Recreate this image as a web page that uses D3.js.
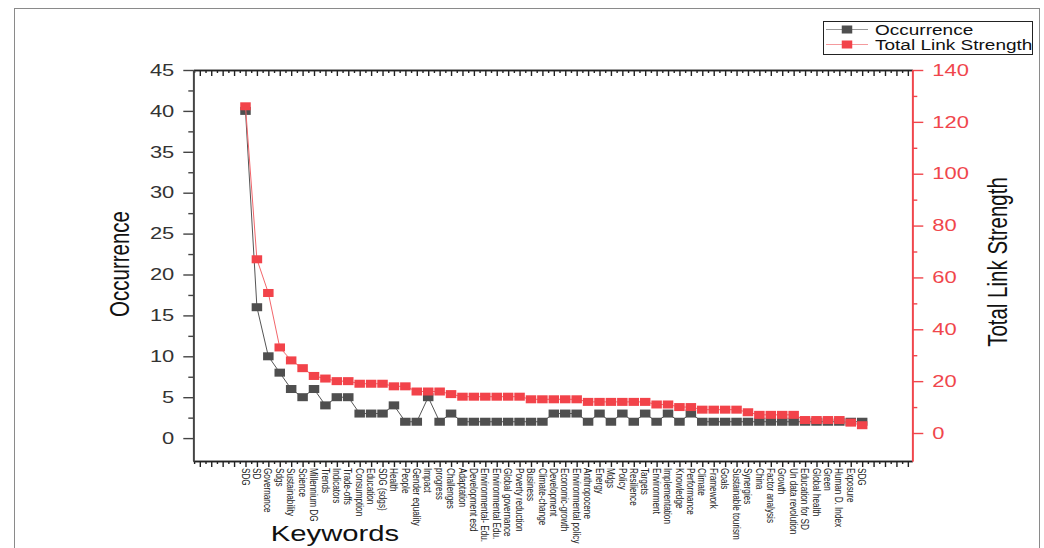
<!DOCTYPE html>
<html>
<head>
<meta charset="utf-8">
<script src="https://cdn.jsdelivr.net/npm/d3@7"></script>
<style>
  html, body { margin: 0; padding: 0; background: #fff; }
  svg { display: block; font-family: "Liberation Sans", Arial, sans-serif; }
</style>
</head>
<body>
<svg id="chart" width="1044" height="548"></svg>
<script>
// ---------------- data ----------------
const keywords = [
  "SDG", "SD", "Governance", "Sdgs", "Sustainability", "Science", "Millennium DG",
  "Trends", "Indicators", "Trade-offs", "Consumption", "Education", "SDG (sdgs)",
  "Health", "People", "Gender equality", "Impact", "progress", "Challenges",
  "Adaptation", "Development esd", "Environmental- Edu.", "Environmental Edu.",
  "Global governance", "Poverty reduction", "Business", "Climate-change",
  "Development", "Economic-growth", "Environmental policy", "Anthropocene",
  "Energy", "Mdgs", "Policy", "Resilience", "Targets", "Environment",
  "Implementation", "Knowledge", "Performance", "Climate", "Framework", "Goals",
  "Sustainable tourism", "Synergies", "China", "Factor analysis", "Growth",
  "Un data revolution", "Education for SD", "Global health", "Green",
  "Human D. Index", "Exposure", "SDG"
];
const occurrence = [
  40, 16, 10, 8, 6, 5, 6, 4, 5, 5, 3, 3, 3, 4,
  2, 2, 5, 2, 3, 2, 2, 2, 2, 2, 2, 2, 2,
  3, 3, 3,
  2, 3, 2, 3, 2, 3, 2, 3, 2, 3,
  2, 2, 2, 2, 2, 2, 2, 2, 2, 2, 2, 2, 2, 2, 2
];
const linkStrength = [
  126, 67, 54, 33, 28, 25, 22, 21, 20, 20, 19, 19, 19, 18, 18,
  16, 16, 16, 15, 14, 14, 14, 14, 14, 14, 13, 13, 13, 13, 13,
  12, 12, 12, 12, 12, 12, 11, 11, 10, 10, 9, 9, 9, 9, 8,
  7, 7, 7, 7, 5, 5, 5, 5, 4, 3
];
const leftTicks = [0, 5, 10, 15, 20, 25, 30, 35, 40, 45];
const leftMinorTicks = [2.5, 7.5, 12.5, 17.5, 22.5, 27.5, 32.5, 37.5, 42.5];
const rightTicks = [0, 20, 40, 60, 80, 100, 120, 140];
const rightMinorTicks = [10, 30, 50, 70, 90, 110, 130];
const seriesNames = ["Occurrence", "Total Link Strength"];

// ---------------- layout ----------------
const svg = d3.select("#chart");
const X0 = 193.3, X1 = 912.3, YT = 70, YB = 461;
const SX = 1.33;               // horizontal stretch of the original picture
const darkAxis = "#444", redAxis = "#f0464c";
const blackFill = "#4f4f4f", redFill = "#f2434a";

const x = d3.scaleLinear().domain([-3.57, 59.39]).range([X0, X1]);
const yL = d3.scaleLinear().domain([-2.8, 45]).range([YB, YT]);
const yR = d3.scaleLinear().domain([-10.8, 140]).range([YB, YT]);

// outer frame
svg.append("rect").attr("x", 14.5).attr("y", 8.5).attr("width", 1025).attr("height", 600)
  .attr("fill", "none").attr("stroke", "#8a8a8a").attr("stroke-width", 1);

// ---------------- axes ----------------
const majorX = d3.range(-3, 60);
const minorX = d3.range(-3.5, 59.5, 1).filter(v => v > -3.57 && v < 59.39);

function styleAxis(g, color) {
  g.selectAll("path.domain").attr("stroke", color).attr("stroke-width", 1.7);
  g.selectAll(".tick line").attr("stroke", color).attr("stroke-width", 1.4);
}

// bottom axis (ticks outward / down)
const gB1 = svg.append("g").attr("transform", `translate(0,${YB})`)
  .call(d3.axisBottom(x).tickValues(minorX).tickSize(3).tickSizeOuter(0).tickFormat(""));
const gB2 = svg.append("g").attr("transform", `translate(0,${YB})`)
  .call(d3.axisBottom(x).tickValues(majorX).tickSize(6).tickSizeOuter(0).tickFormat(""));
styleAxis(gB1, "#222"); styleAxis(gB2, "#222");

// top axis (ticks inward / down)
const gT1 = svg.append("g").attr("transform", `translate(0,${YT})`)
  .call(d3.axisBottom(x).tickValues(minorX).tickSize(3).tickSizeOuter(0).tickFormat(""));
const gT2 = svg.append("g").attr("transform", `translate(0,${YT})`)
  .call(d3.axisBottom(x).tickValues(majorX).tickSize(6).tickSizeOuter(0).tickFormat(""));
styleAxis(gT1, "#222"); styleAxis(gT2, "#222");

// left axis
const gL1 = svg.append("g").attr("transform", `translate(${X0},0)`)
  .call(d3.axisLeft(yL).tickValues(leftMinorTicks).tickSize(5).tickSizeOuter(0).tickFormat(""));
const gL2 = svg.append("g").attr("transform", `translate(${X0},0)`)
  .call(d3.axisLeft(yL).tickValues(leftTicks).tickSize(10).tickSizeOuter(0).tickPadding(9).tickFormat(d3.format("d")));
styleAxis(gL1, darkAxis); styleAxis(gL2, darkAxis);
gL2.selectAll(".tick text")
  .attr("font-size", 16.5).attr("fill", "#333")
  .attr("font-family", "Liberation Sans, Arial, sans-serif")
  .attr("transform", function () {
    const tx = +d3.select(this).attr("x");
    return `translate(${tx},0) scale(${SX},1) translate(${-tx},0)`;
  });

// right axis (red)
const gR1 = svg.append("g").attr("transform", `translate(${X1},0)`)
  .call(d3.axisRight(yR).tickValues(rightMinorTicks).tickSize(5).tickSizeOuter(0).tickFormat(""));
const gR2 = svg.append("g").attr("transform", `translate(${X1},0)`)
  .call(d3.axisRight(yR).tickValues(rightTicks).tickSize(11).tickSizeOuter(0).tickPadding(9).tickFormat(d3.format("d")));
styleAxis(gR1, redAxis); styleAxis(gR2, redAxis);
gR2.selectAll(".tick text")
  .attr("font-size", 16.5).attr("fill", redAxis)
  .attr("font-family", "Liberation Sans, Arial, sans-serif")
  .attr("transform", function () {
    const tx = +d3.select(this).attr("x");
    return `translate(${tx},0) scale(${SX},1) translate(${-tx},0)`;
  });

// category labels (rotated)
svg.append("g").selectAll("text").data(keywords).join("text")
  .attr("transform", (d, i) => `translate(${x(i + 1)},468) scale(${SX},1) rotate(90)`)
  .attr("dy", "0.35em")
  .attr("font-size", 8.2)
  .attr("fill", "#222")
  .text(d => d);

// axis titles
svg.append("text")
  .attr("transform", `translate(119,264) scale(${SX},1) rotate(-90)`)
  .attr("text-anchor", "middle").attr("dy", "0.35em")
  .attr("font-size", 20.5).attr("fill", "#111").text("Occurrence");
svg.append("text")
  .attr("transform", `translate(997,262) scale(${SX},1) rotate(-90)`)
  .attr("text-anchor", "middle").attr("dy", "0.35em")
  .attr("font-size", 20.5).attr("fill", "#111").text("Total Link Strength");
svg.append("text")
  .attr("transform", `translate(335,541) scale(${SX},1)`)
  .attr("text-anchor", "middle")
  .attr("font-size", 22).attr("fill", "#111").text("Keywords");

// ---------------- series ----------------
const sqW = 10.5, sqH = 8;
function drawSeries(values, yScale, lineColor, fill) {
  const line = d3.line().x((d, i) => x(i + 1)).y(d => yScale(d));
  svg.append("path").datum(values).attr("d", line)
    .attr("fill", "none").attr("stroke", lineColor).attr("stroke-width", 1);
  svg.append("g").selectAll("rect").data(values).join("rect")
    .attr("x", (d, i) => x(i + 1) - sqW / 2)
    .attr("y", d => yScale(d) - sqH / 2)
    .attr("width", sqW).attr("height", sqH)
    .attr("fill", fill);
}
drawSeries(occurrence, yL, "#555", blackFill);
drawSeries(linkStrength, yR, "#f2666b", redFill);

// ---------------- legend ----------------
const lg = svg.append("g");
lg.append("rect").attr("x", 823.5).attr("y", 21.5).attr("width", 209).attr("height", 33)
  .attr("fill", "#fff").attr("stroke", "#222").attr("stroke-width", 1);
const legendRows = [
  { name: seriesNames[0], line: "#9a9a9a", fill: blackFill, y: 29.5 },
  { name: seriesNames[1], line: "#f49a9d", fill: redFill, y: 44.5 }
];
legendRows.forEach(r => {
  lg.append("line").attr("x1", 826).attr("x2", 868).attr("y1", r.y).attr("y2", r.y)
    .attr("stroke", r.line).attr("stroke-width", 1);
  lg.append("rect").attr("x", 847 - sqW / 2).attr("y", r.y - sqH / 2)
    .attr("width", sqW).attr("height", sqH).attr("fill", r.fill);
  lg.append("text")
    .attr("transform", `translate(875,${r.y}) scale(${SX},1)`)
    .attr("dy", "0.35em").attr("font-size", 14.3).attr("fill", "#111")
    .text(r.name);
});
</script>
</body>
</html>
